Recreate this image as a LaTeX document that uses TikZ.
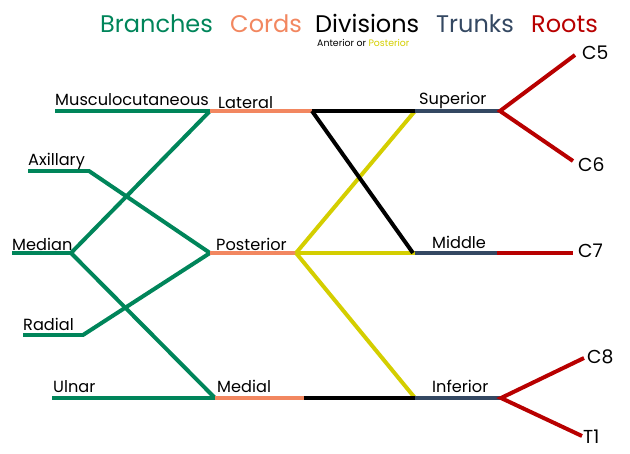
\documentclass[tikz,border=0pt]{standalone}
\usepackage{fontspec}
\setmainfont{Poppins}
\definecolor{brgreen}{RGB}{0,133,90}
\definecolor{cordor}{RGB}{242,135,96}
\definecolor{divyel}{RGB}{212,206,0}
\definecolor{trblue}{RGB}{52,72,98}
\definecolor{rootred}{RGB}{184,0,0}
\tikzset{
  nerve/.style={line width=3.4pt, line cap=butt, line join=miter},
  branch/.style={nerve, draw=brgreen},
  cordl/.style={nerve, draw=cordor},
  antdiv/.style={nerve, draw=black},
  postdiv/.style={nerve, draw=divyel},
  trunkl/.style={nerve, draw=trblue},
  rootl/.style={nerve, draw=rootred},
  lbl/.style={inner sep=0pt, anchor=base west, font=\fontsize{13.8}{15}\selectfont},
  rootlbl/.style={lbl, font=\fontsize{16}{18}\selectfont},
  ttl/.style={inner sep=0pt, anchor=base west, text depth=0pt, font=\fontsize{20.5}{22}\selectfont},
}
\begin{document}
\begin{tikzpicture}[x=0.03cm,y=-0.03cm]
\useasboundingbox (0,0) rectangle (630,454);
% junction coordinates
\coordinate (mcL) at (55,111);
\coordinate (lat) at (210,111);
\coordinate (latE) at (312,111);
\coordinate (sup) at (415,111);
\coordinate (supR) at (500,111);
\coordinate (c5) at (575,55);
\coordinate (c6) at (573,161);
\coordinate (axL) at (28,171);
\coordinate (axK) at (89,171);
\coordinate (post) at (210,253);
\coordinate (postE) at (296,253);
\coordinate (medL) at (12,253);
\coordinate (medK) at (71,253);
\coordinate (radL) at (23,335);
\coordinate (radK) at (83,335);
\coordinate (ulL) at (52,398);
\coordinate (medc) at (215,398);
\coordinate (medcE) at (304,398);
\coordinate (inf) at (415,398);
\coordinate (infR) at (501,398);
\coordinate (c8) at (584,358);
\coordinate (t1) at (582,436);
\coordinate (mid) at (415,253);
\coordinate (midB) at (413,253);
\coordinate (midR) at (497,253);
\coordinate (c7) at (573,253);
% branches
\draw[branch] (mcL) -- (lat);
\draw[branch] (axL) -- (axK) -- (post);
\draw[branch] (medL) -- (medK);
\draw[branch] (lat) -- (medK) -- (medc);
\draw[branch] (radL) -- (radK) -- (post);
\draw[branch] (ulL) -- (medc);
% cords
\draw[cordl] (lat) -- (latE);
\draw[cordl] (post) -- (postE);
\draw[cordl] (medc) -- (medcE);
% divisions
\draw[postdiv] (postE) -- (sup);
\draw[postdiv] (postE) -- (mid);
\draw[postdiv] (postE) -- (inf);
\draw[antdiv] (latE) -- (sup);
\draw[antdiv] (latE) -- (midB);
\draw[antdiv] (medcE) -- (inf);
% trunks
\draw[trunkl] (sup) -- (supR);
\draw[trunkl] (mid) -- (midR);
\draw[trunkl] (inf) -- (infR);
% roots
\draw[rootl] (c5) -- (supR) -- (c6);
\draw[rootl] (midR) -- (c7);
\draw[rootl] (c8) -- (infR) -- (t1);
% titles
\node[ttl, text=brgreen] (tB) at (100,33) {Branches};
\node[ttl, text=cordor] (tC) at (230,33) {Cords};
\node[ttl, text=black] (tD) at (315,33) {Divisions};
\node[ttl, text=trblue] (tT) at (436,33) {Trunks};
\node[ttl, text=rootred] (tR) at (531,33) {Roots};
\node[inner sep=0pt, anchor=base west, text height=5.5pt, font=\fontsize{8}{9}\selectfont] (tSub) at (317,46.5) {Anterior or \textcolor{divyel}{Posterior}};
% labels
\node[lbl] (lMc) at (55,106) {Musculocutaneous};
\node[lbl] (lLat) at (218,108.5) {Lateral};
\node[lbl] (lSup) at (419,105) {Superior};
\node[rootlbl] (lC5) at (582,60) {C5};
\node[lbl] (lAx) at (28,166) {Axillary};
\node[rootlbl] (lC6) at (578,172) {C6};
\node[lbl] (lMed) at (12,250.5) {Median};
\node[lbl] (lPost) at (216,250.5) {Posterior};
\node[lbl] (lMid) at (432,249) {Middle};
\node[rootlbl] (lC7) at (578,258) {C7};
\node[lbl] (lRad) at (23,330.5) {Radial};
\node[lbl] (lUl) at (53,393) {Ulnar};
\node[lbl] (lMedc) at (217,393) {Medial};
\node[lbl] (lInf) at (432,393) {Inferior};
\node[rootlbl] (lC8) at (587,364) {C8};
\node[rootlbl] (lT1) at (583,444) {T1};
\end{tikzpicture}
\end{document}
